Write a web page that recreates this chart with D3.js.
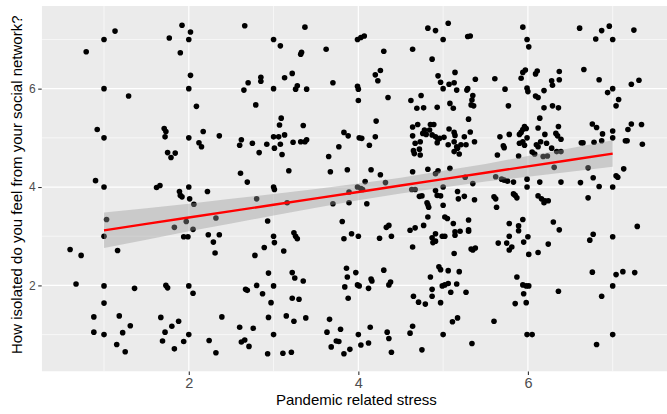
<!DOCTYPE html>
<html><head><meta charset="utf-8">
<script src="https://cdn.jsdelivr.net/npm/d3@7"></script>
<style>
body{margin:0;background:#fff;}
svg{display:block;}
text{font-family:"Liberation Sans",Arial,Helvetica,sans-serif;}
</style>
</head><body>
<svg id="chart" width="667" height="414"></svg>
<script>
// ---- data ----
const xTitle = "Pandemic related stress";
const yTitle = "How isolated do you feel from your social network?";
const xTickValues = [2, 4, 6];
const yTickValues = [2, 4, 6];
const xMinorValues = [1, 3, 5, 7];
const yMinorValues = [1, 3, 5, 7];

// linear fit and its confidence band
const fitStress = [1, 1.5, 2, 2.5, 3, 3.5, 4, 4.5, 5, 5.5, 6, 6.5, 7];
const fitIsolation = [3.12, 3.25, 3.38, 3.51, 3.64, 3.77, 3.90, 4.03, 4.16, 4.29, 4.42, 4.55, 4.68];
const fitLower = [2.76, 2.93, 3.10, 3.26, 3.42, 3.58, 3.73, 3.87, 3.99, 4.11, 4.21, 4.31, 4.41];
const fitUpper = [3.48, 3.57, 3.66, 3.76, 3.86, 3.96, 4.07, 4.19, 4.33, 4.47, 4.63, 4.79, 4.95];

// jittered observations: [stress, isolation]
const observations = [
[1.13,7.17],[1.00,7.00],[0.79,6.75],[1.92,7.29],[2.02,7.15],[1.77,7.03],[2.00,7.00],[1.90,6.73],[2.66,7.28],[2.02,6.27],[2.70,6.12],[2.65,5.97],[1.00,6.00],[1.29,5.85],[2.00,6.00],[2.09,5.64],[2.79,5.67],[0.92,5.17],[1.00,5.00],[1.71,5.19],[1.73,5.13],[1.72,5.02],[2.00,5.00],[2.17,5.13],[2.12,4.90],[2.15,4.82],[2.36,5.04],[2.62,4.96],[2.60,4.85],[2.75,4.89],[1.75,4.70],[1.84,4.69],[1.79,4.60],[2.61,4.28],[2.69,4.10],[0.90,4.13],
[3.37,7.25],[3.00,7.00],[3.08,6.87],[3.33,6.74],[3.32,6.70],[3.62,6.80],[3.99,7.00],[4.03,7.04],[4.07,7.07],[4.30,6.76],[4.82,7.23],[4.91,7.18],[5.06,7.33],[5.00,7.00],[4.64,6.80],[4.87,6.60],
[3.22,6.31],[3.13,6.22],[2.85,6.23],[2.85,6.15],[3.00,6.00],[3.26,5.99],[3.28,6.06],[3.39,5.99],[3.70,6.12],[4.20,6.28],[4.26,6.37],[4.23,6.16],[3.99,6.05],[4.00,5.99],[4.94,6.26],[4.97,6.13],[5.14,6.33],[5.00,6.00],[5.07,6.09],[5.13,6.12],[5.16,5.97],
[4.00,5.76],[4.35,5.82],[4.62,5.76],[4.74,5.86],[4.69,5.60],[4.77,5.61],[4.93,5.62],[5.08,5.70],[5.12,5.60],
[3.09,5.40],[3.07,5.26],[3.35,5.25],[3.00,5.02],[3.06,5.02],[3.13,5.06],[2.92,4.87],[3.01,4.79],[3.08,4.87],[3.10,4.66],[2.83,4.70],[3.23,4.91],[3.32,4.92],[3.37,4.92],[3.39,4.96],[3.83,5.11],[3.88,5.04],[3.77,4.82],[3.65,4.62],[4.01,5.00],[4.04,4.99],[4.20,5.02],[4.13,4.85],[4.21,5.34],
[4.64,5.22],[4.70,5.27],[4.64,5.04],[4.67,4.89],[4.73,4.92],[4.65,4.74],[4.66,4.68],[4.72,4.77],[4.73,4.65],[4.76,5.09],[4.78,5.16],[4.80,5.07],[4.85,5.27],[4.89,5.27],[4.84,5.16],[4.87,5.06],[4.91,5.02],[4.94,4.97],[4.93,4.90],[4.96,4.99],[5.01,5.01],[5.06,4.86],[5.07,5.18],[5.13,5.11],[5.14,5.05],[5.13,4.92],[5.16,4.82],[5.13,4.72],
[3.18,4.33],[3.67,4.31],[3.87,4.35],[4.15,4.35],[4.26,4.25],[4.08,4.11],[4.64,4.31],[4.82,4.36],[4.94,4.33],[4.91,4.27],[5.08,4.38],[4.32,4.09],
[5.94,7.25],[5.29,7.06],[5.32,7.07],[5.99,7.00],[6.01,6.85],[6.61,7.23],[6.87,7.18],[6.96,7.27],[6.80,7.01],[7.00,7.00],[7.25,7.19],
[5.38,6.19],[5.61,6.20],[5.73,5.99],[5.92,6.21],[5.94,6.33],[5.97,6.38],[6.09,6.30],[6.11,6.36],[6.28,6.16],[6.29,6.07],[6.37,6.35],[6.37,6.18],[6.66,6.39],[6.84,6.18],[7.22,6.09],[7.31,6.17],
[5.28,5.97],[5.29,6.00],[5.99,6.01],[6.00,5.94],[6.09,5.85],[6.12,5.82],[6.19,5.96],[7.00,6.00],[6.94,5.92],[7.07,5.78],[7.04,5.65],[5.35,5.86],[5.34,5.77],[5.33,5.67],[5.36,5.65],[5.77,5.65],[6.19,5.61],[6.29,5.65],[6.36,5.61],
[5.30,5.38],[6.14,5.40],[6.12,5.20],[5.96,5.23],[5.94,5.17],[5.98,5.19],[5.92,5.11],[5.90,5.07],[5.99,5.00],[5.94,4.92],[5.90,4.89],[5.96,4.85],[6.10,4.86],[6.12,4.82],[6.15,4.92],[6.20,5.07],[6.22,4.89],[6.28,4.79],[6.33,5.09],[6.35,5.04],[6.39,4.97],[6.36,5.23],[6.34,4.72],[6.39,4.72],
[5.67,5.02],[5.78,5.07],[5.71,4.84],[5.72,4.80],[5.64,4.65],[5.89,4.63],[6.08,4.67],[6.05,4.71],[5.25,5.02],[5.32,5.12],[5.37,4.92],[5.27,4.86],[5.21,4.86],[5.17,4.79],[5.19,4.67],
[6.76,5.28],[6.81,5.21],[6.88,5.08],[7.00,5.14],[7.00,5.00],[6.87,4.94],[6.78,4.91],[6.65,4.90],[6.63,4.90],[7.15,4.94],[7.17,4.94],[7.18,5.17],[7.22,5.28],[7.34,5.27],[7.35,4.87],
[6.18,4.62],[6.23,4.63],[6.31,4.40],[6.71,4.39],[7.13,4.37],[7.04,4.23],[7.06,4.20],[5.62,4.21],[5.69,4.16],[5.72,4.14],[5.76,4.12],[5.83,4.10],[5.26,4.20],[5.99,4.16],[6.14,4.10],[6.39,4.10],[6.62,4.09],[6.77,4.19],
[1.00,4.00],[1.62,3.99],[1.66,4.03],[2.00,4.00],[1.89,3.91],[1.90,3.83],[1.92,3.80],[2.01,3.76],[2.06,3.65],[2.22,3.91],[2.80,3.76],[1.03,3.34],[1.83,3.18],[1.97,3.30],[2.05,3.14],[2.32,3.37],[1.00,3.00],[1.94,2.99],[1.99,2.99],[2.23,3.03],[2.36,3.03],[2.29,2.88],[2.31,2.66],[2.78,2.61],[0.60,2.73],[0.73,2.61],[1.16,2.71],[0.67,2.03],[1.00,1.99],[1.36,1.94],[1.73,2.00],[1.75,1.95],[2.00,1.99],[2.05,1.84],[2.67,1.92],[2.69,1.90],[2.80,2.00],[1.00,1.64],[0.88,1.36],[1.18,1.38],[1.31,1.18],[0.88,1.05],[1.00,1.00],[1.22,1.04],[1.15,0.80],[1.25,0.65],[1.67,1.35],[1.80,1.17],[1.88,1.27],[1.72,1.05],[1.69,0.87],[1.83,0.71],[2.00,1.00],[1.94,0.86],[2.24,0.88],[2.32,0.63],[2.39,1.36],[2.60,1.15],[2.76,1.13],[2.62,0.85],[2.66,0.89],[2.71,0.76],
[3.00,4.00],[3.01,3.95],[3.16,3.68],[2.93,3.31],[3.70,3.66],[3.89,3.68],[3.89,3.90],[3.99,4.00],[4.03,3.97],[4.05,3.95],[4.10,3.66],[4.63,3.95],[4.67,3.95],[4.72,3.81],[4.75,3.82],[4.91,3.93],[4.93,3.83],[4.97,3.82],[5.00,4.00],[4.81,3.68],[4.82,3.64],[4.83,3.59],[5.00,3.63],[4.82,3.39],[5.02,3.39],[5.05,3.36],[5.12,3.26],[5.14,3.09],[5.14,3.02],[4.77,3.22],[4.67,3.17],[4.61,3.12],[4.36,3.22],[4.33,3.18],[4.39,3.00],[4.25,2.96],[3.92,3.05],[4.00,3.00],[3.83,2.95],[3.81,3.30],[4.91,3.05],[4.87,2.97],[4.88,2.87],[4.91,2.90],[4.99,3.00],[5.02,3.00],[4.64,2.78],[3.00,3.00],[3.01,2.87],[3.24,3.07],[3.26,3.00],[3.28,2.95],[2.89,2.77],[3.12,2.70],
[2.94,2.25],[3.22,2.26],[3.25,2.15],[3.35,2.09],[3.00,1.99],[2.87,1.83],[2.97,1.65],[3.22,1.74],[3.30,1.72],[3.86,2.35],[3.87,2.17],[3.97,2.26],[3.84,1.97],[3.99,2.01],[4.01,1.99],[4.12,1.94],[4.15,2.13],[4.16,2.09],[3.88,1.74],[4.30,2.31],[4.38,2.07],[4.36,2.01],[4.85,2.17],[4.95,2.38],[4.97,2.32],[5.06,2.30],[5.13,2.65],[4.87,1.92],[4.87,1.78],[4.99,1.99],[5.02,2.01],[5.06,2.04],[5.09,1.86],[5.16,2.03],[4.65,1.78],[4.71,1.66],[4.79,1.62],[4.97,1.65],
[2.94,1.35],[3.15,1.38],[3.24,1.27],[3.38,1.34],[3.00,1.00],[2.93,0.61],[3.11,0.62],[3.21,0.64],[3.66,1.31],[3.63,1.05],[3.79,1.11],[3.74,0.87],[3.77,0.86],[3.68,0.75],[3.83,0.61],[3.90,0.70],[4.00,1.00],[4.03,0.79],[4.12,0.83],[4.14,1.15],[4.34,1.05],[4.36,0.92],[4.39,0.64],[4.61,1.03],[4.64,1.17],[4.75,0.69],[5.00,1.00],[5.11,1.26],
[5.35,4.07],[5.99,4.00],[6.84,4.01],[7.00,4.00],[5.17,3.91],[5.18,3.76],[5.25,3.81],[5.37,3.74],[5.60,3.80],[5.62,3.76],[5.63,3.59],[5.83,3.86],[5.85,3.83],[5.87,3.78],[6.12,3.82],[6.16,3.76],[6.19,3.68],[6.20,3.72],[6.24,3.72],[6.71,3.78],[5.30,3.33],[5.20,3.10],[5.30,3.13],[5.30,3.10],[5.78,3.26],[5.89,3.21],[5.89,3.11],[5.94,3.34],[6.30,3.29],[6.37,3.13],[7.29,3.20],[6.77,3.04],[6.73,2.92],[7.00,2.99],[5.78,3.00],[6.00,2.99],[5.65,2.86],[5.75,2.86],[5.81,2.78],[5.78,2.72],[5.95,2.88],[6.24,2.84],[6.12,2.67],[6.01,2.63],[5.33,2.74],[5.35,2.72],[5.38,2.76],[5.19,2.28],[5.87,2.17],[6.76,2.27],[7.04,2.22],[7.12,2.28],[7.26,2.26],[5.27,1.86],[5.94,2.01],[5.98,1.99],[6.01,1.99],[5.95,1.83],[5.85,1.63],[5.98,1.65],[6.36,1.88],[6.87,1.78],[7.00,1.99],[5.17,1.34],[5.60,1.27],[5.99,1.00],[6.05,1.00],[7.00,1.00],[5.34,0.82],[6.81,0.80]
];

// ---- layout ----
const W = 667, H = 414;
const panel = {left: 41.7, right: 675, top: 6, bottom: 371.5};
const xDomain = [0.265, 7.735];
const yDomain = [0.25, 7.68];

const svg = d3.select("#chart");
const x = d3.scaleLinear().domain(xDomain).range([panel.left, panel.right]);
const y = d3.scaleLinear().domain(yDomain).range([panel.bottom, panel.top]);

svg.append("rect").attr("width", W).attr("height", H).attr("fill", "#ffffff");

svg.append("defs").append("clipPath").attr("id", "clip")
  .append("rect")
  .attr("x", x(xDomain[0])).attr("y", y(yDomain[1]))
  .attr("width", x(xDomain[1]) - x(xDomain[0]))
  .attr("height", y(yDomain[0]) - y(yDomain[1]));

const plot = svg.append("g").attr("clip-path", "url(#clip)");

plot.append("rect")
  .attr("x", x(xDomain[0])).attr("y", y(yDomain[1]))
  .attr("width", x(xDomain[1]) - x(xDomain[0]))
  .attr("height", y(yDomain[0]) - y(yDomain[1]))
  .attr("fill", "#EBEBEB");

// minor grid
plot.selectAll(".xminor").data(xMinorValues).enter().append("line")
  .attr("x1", d => x(d)).attr("x2", d => x(d))
  .attr("y1", y(yDomain[0])).attr("y2", y(yDomain[1]))
  .attr("stroke", "#ffffff").attr("stroke-width", 0.6);
plot.selectAll(".yminor").data(yMinorValues).enter().append("line")
  .attr("y1", d => y(d)).attr("y2", d => y(d))
  .attr("x1", x(xDomain[0])).attr("x2", x(xDomain[1]))
  .attr("stroke", "#ffffff").attr("stroke-width", 0.6);
// major grid
plot.selectAll(".xmajor").data(xTickValues).enter().append("line")
  .attr("x1", d => x(d)).attr("x2", d => x(d))
  .attr("y1", y(yDomain[0])).attr("y2", y(yDomain[1]))
  .attr("stroke", "#ffffff").attr("stroke-width", 1.2);
plot.selectAll(".ymajor").data(yTickValues).enter().append("line")
  .attr("y1", d => y(d)).attr("y2", d => y(d))
  .attr("x1", x(xDomain[0])).attr("x2", x(xDomain[1]))
  .attr("stroke", "#ffffff").attr("stroke-width", 1.2);

// points
plot.selectAll(".pt").data(observations).enter().append("circle")
  .attr("cx", d => x(d[0])).attr("cy", d => y(d[1]))
  .attr("r", 2.8).attr("fill", "#000000");

// confidence band
const band = fitStress.map((s, i) => ({s: s, lo: fitLower[i], hi: fitUpper[i], m: fitIsolation[i]}));
plot.append("path").datum(band)
  .attr("d", d3.area().x(d => x(d.s)).y0(d => y(d.lo)).y1(d => y(d.hi)))
  .attr("fill", "#999999").attr("fill-opacity", 0.4);
plot.append("path").datum(band)
  .attr("d", d3.line().x(d => x(d.s)).y(d => y(d.m)))
  .attr("fill", "none").attr("stroke", "#FF0000").attr("stroke-width", 2.4);

// axes
const xAxis = svg.append("g").attr("transform", `translate(0,${panel.bottom})`)
  .call(d3.axisBottom(x).tickValues(xTickValues).tickSize(3.5).tickPadding(2.5).tickFormat(d3.format("d")));
const yAxis = svg.append("g").attr("transform", `translate(${panel.left},0)`)
  .call(d3.axisLeft(y).tickValues(yTickValues).tickSize(3.5).tickPadding(2.5).tickFormat(d3.format("d")));
[xAxis, yAxis].forEach(a => {
  a.select(".domain").remove();
  a.selectAll(".tick line").attr("stroke", "#333333").attr("stroke-width", 1.1);
  a.selectAll(".tick text").attr("fill", "#4D4D4D")
    .style("font-family", "'Liberation Sans', Arial, sans-serif");
});
xAxis.selectAll(".tick text").style("font-size", "14.5px");
yAxis.selectAll(".tick text").style("font-size", "12px");

// titles
svg.append("text")
  .attr("x", (panel.left + panel.right) / 2 - 2).attr("y", 405)
  .attr("text-anchor", "middle").attr("fill", "#000")
  .style("font-size", "15px").text(xTitle);
svg.append("text")
  .attr("transform", `translate(22,${(panel.top + panel.bottom) / 2 - 4}) rotate(-90)`)
  .attr("text-anchor", "middle").attr("fill", "#000")
  .style("font-size", "15px").text(yTitle);
</script>
</body></html>
